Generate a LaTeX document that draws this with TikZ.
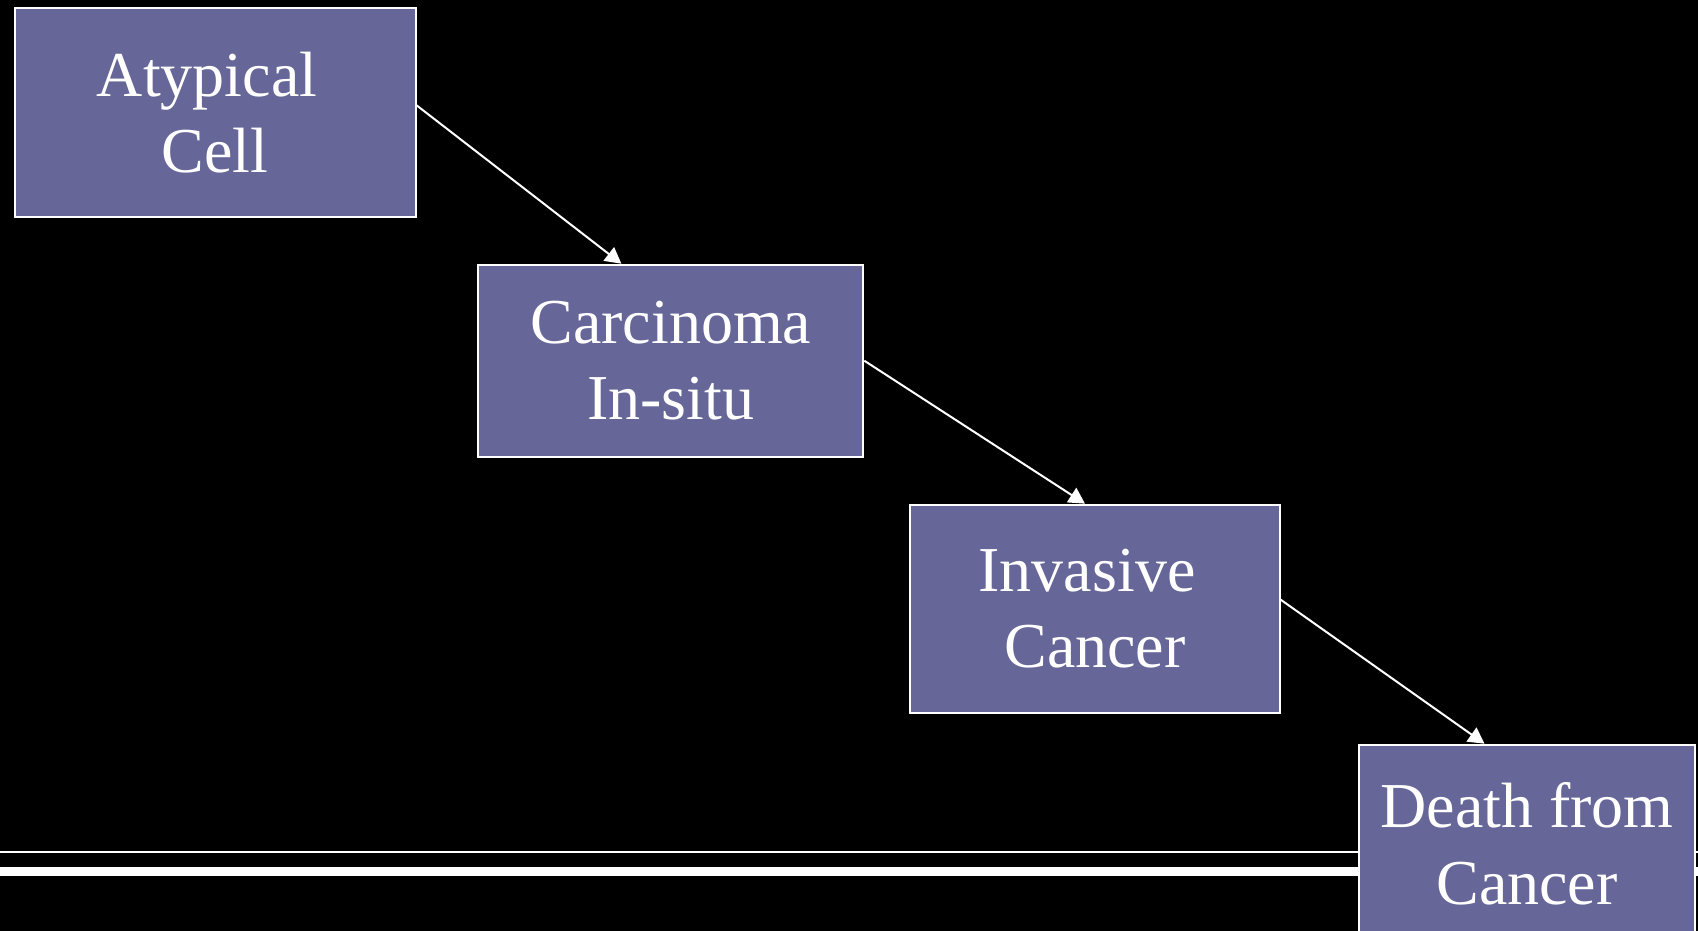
\documentclass[tikz,border=0pt]{standalone}
\usepackage{fontspec}
\setmainfont{Liberation Serif}
\usetikzlibrary{arrows.meta,calc}
\definecolor{boxfill}{HTML}{666699}
\tikzset{
  stagebox/.style={draw=white, line width=2pt, fill=boxfill, text=white,
    font=\fontsize{64pt}{76.5pt}\selectfont, align=center, inner sep=0pt,
    anchor=north west},
  flow/.style={draw=white, line width=2pt, -{Triangle[length=16pt,width=17pt]}},
}
\begin{document}
\begin{tikzpicture}[x=1pt,y=-1pt]
\useasboundingbox[fill=black] (0,0) rectangle (1698,931);
% rules at the bottom
\coordinate (r1a) at (0,851.7);
\coordinate (r1b) at (1698,851.7);
\coordinate (r2a) at (0,871.7);
\coordinate (r2b) at (1698,871.7);
\draw[white, line width=2pt] (r1a) -- (r1b);
\draw[white, line width=8.5pt] (r2a) -- (r2b);
% boxes
\node[stagebox, minimum width=401pt, minimum height=208.5pt] (b1) at (13.5,7.5) {Atypical\hspace*{16pt}\\Cell};
\node[stagebox, minimum width=385pt, minimum height=192pt] (b2) at (477.3,263.7) {Carcinoma\\In-situ};
\node[stagebox, minimum width=369.4pt, minimum height=208pt] (b3) at (909.3,503.7) {Invasive\hspace*{16pt}\\Cancer};
\node[stagebox, minimum width=336pt, minimum height=198pt] (b4) at (1358,743.7) {Death from\\Cancer};
% connectors
\draw[flow] ([yshift=7.5pt]b1.east) -- ([xshift=-49.4pt]b2.north);
\draw[flow] (b2.east) -- ([xshift=-10pt]b3.north);
\draw[flow] ([yshift=9pt]b3.east) -- ([xshift=-42.5pt]b4.north);
\end{tikzpicture}
\end{document}
